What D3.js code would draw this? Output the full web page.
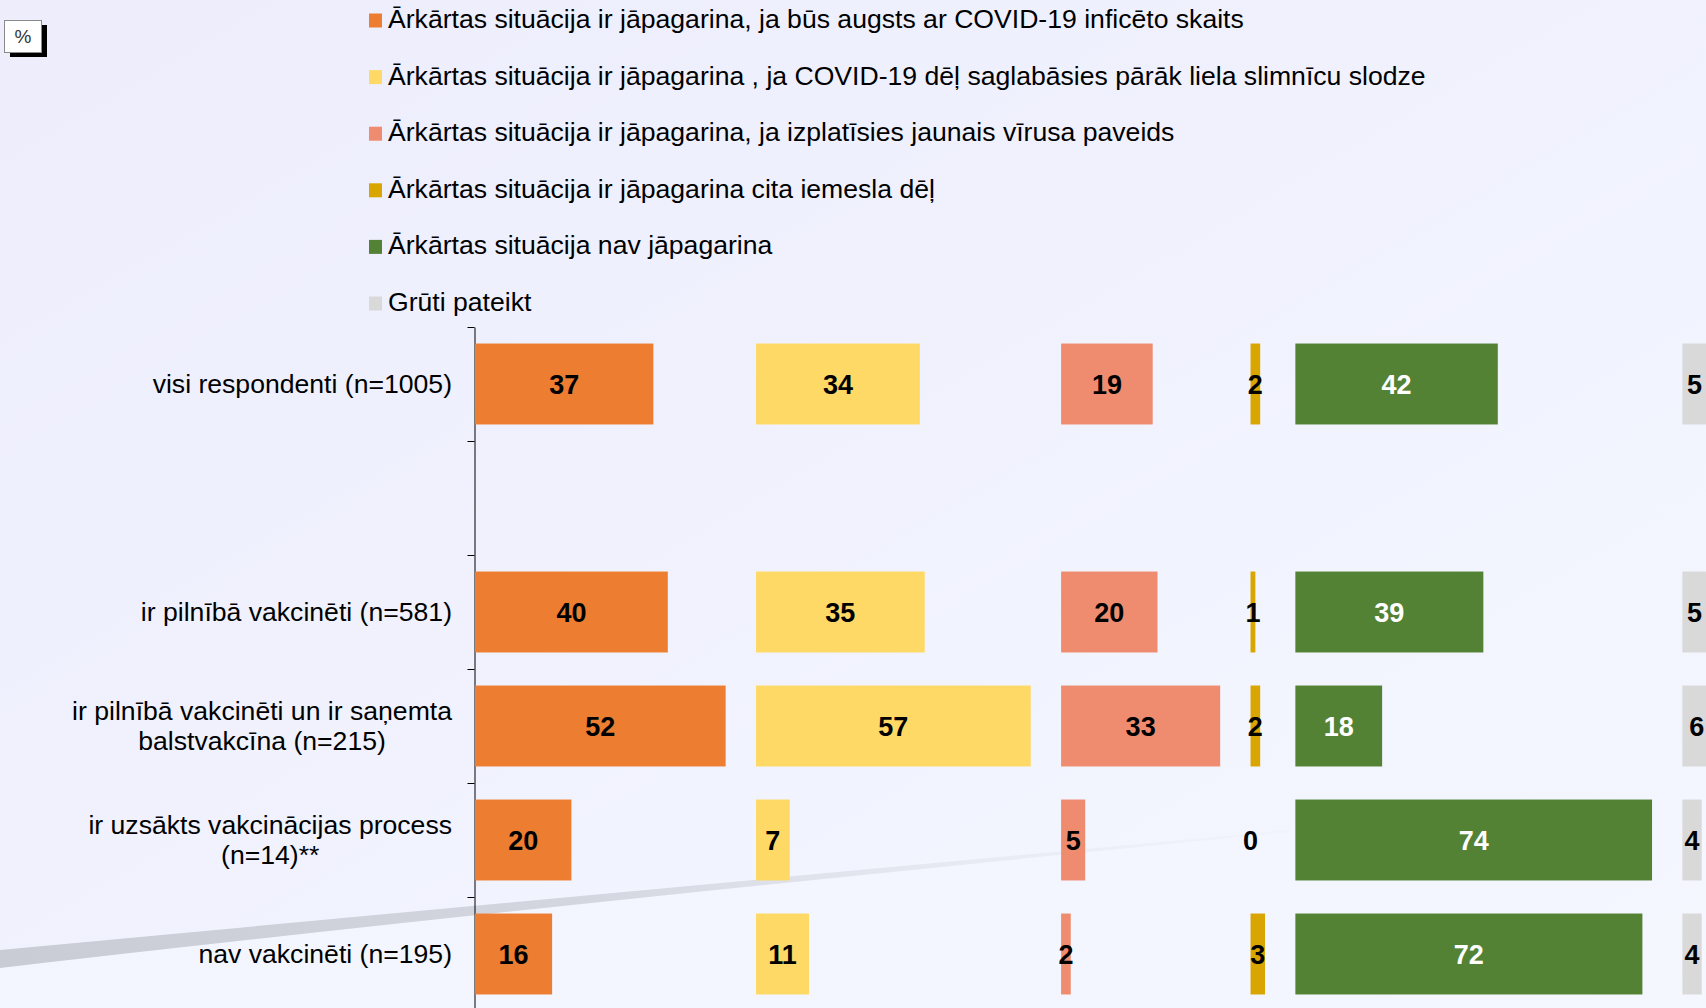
<!DOCTYPE html>
<html>
<head>
  <meta charset="utf-8">
  <title>Ārkārtas situācija</title>
  <script src="https://d3js.org/d3.v7.min.js"></script>
  <style>
    html, body { margin: 0; padding: 0; overflow: hidden; }
    svg { display: block; font-family: "Liberation Sans", Arial, sans-serif; }
    .cat { font-size: 26.6px; fill: #000; }
    .leg { font-size: 26.6px; fill: #000; }
    .val { font-size: 27px; font-weight: bold; }
  </style>
</head>
<body>
  <svg width="1706" height="1008"></svg>

  <script>
    // rows (the empty string is the blank slot between the first and second row)
    const categories = [
      "visi respondenti (n=1005)",
      "",
      "ir pilnībā vakcinēti (n=581)",
      "ir pilnībā vakcinēti un ir saņemta\nbalstvakcīna (n=215)",
      "ir uzsākts vakcinācijas process\n(n=14)**",
      "nav vakcinēti (n=195)"
    ];

    const seriesNames = [
      "Ārkārtas situācija ir jāpagarina, ja būs augsts ar COVID-19 inficēto skaits",
      "Ārkārtas situācija ir jāpagarina , ja COVID-19 dēļ saglabāsies pārāk liela slimnīcu slodze",
      "Ārkārtas situācija ir jāpagarina, ja izplatīsies jaunais vīrusa paveids",
      "Ārkārtas situācija ir jāpagarina cita iemesla dēļ",
      "Ārkārtas situācija nav jāpagarina",
      "Grūti pateikt"
    ];

    const highInfected = [37, null, 40, 52, 20, 16];
    const hospitalLoad = [34, null, 35, 57, 7, 11];
    const newVariant   = [19, null, 20, 33, 5, 2];
    const otherReason  = [2, null, 1, 2, 0, 3];
    const noExtension  = [42, null, 39, 18, 74, 72];
    const hardToSay    = [5, null, 5, 6, 4, 4];

    const seriesValues = [highInfected, hospitalLoad, newVariant, otherReason, noExtension, hardToSay];
    const colors = ["#ED7D31", "#FFD966", "#EF8C6F", "#D9A500", "#548235", "#D9D9D9"];
    const labelColors = ["#000", "#000", "#000", "#000", "#fff", "#000"];

    const svg = d3.select("svg");
    const W = 1706, H = 1008;
    const defs = svg.append("defs");

    // background
    const bg = defs.append("linearGradient").attr("id", "bg")
      .attr("x1", "0").attr("y1", "0").attr("x2", "1").attr("y2", "1");
    bg.append("stop").attr("offset", "0").attr("stop-color", "#EDEDFC");
    bg.append("stop").attr("offset", "1").attr("stop-color", "#F4F7FF");
    svg.append("rect").attr("width", W).attr("height", H).attr("fill", "url(#bg)");

    // swoosh decoration
    const sw = defs.append("linearGradient").attr("id", "sw")
      .attr("gradientUnits", "userSpaceOnUse")
      .attr("x1", 0).attr("y1", 0).attr("x2", 1290).attr("y2", 0);
    sw.append("stop").attr("offset", "0").attr("stop-color", "#C9CCD4");
    sw.append("stop").attr("offset", "0.45").attr("stop-color", "#D3D6DE");
    sw.append("stop").attr("offset", "1").attr("stop-color", "#E8EAF4").attr("stop-opacity", 0.2);
    svg.append("path")
      .attr("d", "M0,968 L0,1008 L1706,1008 L1706,820 L1290,832 Q500,910 0,968 Z")
      .attr("fill", "#F5F7FF").attr("opacity", 0.6);
    svg.append("path")
      .attr("d", "M0,950 L1290,830 L1290,832 Q500,910 0,968 Z")
      .attr("fill", "url(#sw)");

    // % box
    svg.append("rect").attr("x", 10).attr("y", 25).attr("width", 37).attr("height", 32).attr("fill", "#000");
    svg.append("rect").attr("x", 4.5).attr("y", 20.5).attr("width", 37).attr("height", 32)
      .attr("fill", "#fff").attr("stroke", "#8a8a8a");
    svg.append("text").attr("x", 23).attr("y", 43).attr("text-anchor", "middle")
      .style("font-size", "19px").attr("fill", "#333").text("%");

    // legend
    const legend = svg.append("g").selectAll("g").data(seriesNames).join("g")
      .attr("transform", (d, i) => `translate(369,${28 + i * 56.6})`);
    legend.append("rect").attr("x", 0).attr("y", -14.5).attr("width", 13).attr("height", 14)
      .attr("fill", (d, i) => colors[i]);
    legend.append("text").attr("class", "leg").attr("x", 19).attr("y", 0).text(d => d);

    // scales
    const x = d3.scaleLinear().domain([0, 100]).range([0, 482]);
    const y = d3.scaleBand().domain(d3.range(categories.length))
      .range([327, 1011]).paddingInner(0.29).paddingOuter(0.145);
    const yEdges = d3.scaleLinear().domain([0, categories.length]).range([327, 1011]);

    const axisX = 474.5;
    const gap = 6.3;
    const offsets = [];
    seriesValues.forEach((vals, k) => {
      if (k === 0) offsets.push(axisX + 0.5);
      else offsets.push(offsets[k - 1] + x(d3.max(seriesValues[k - 1])) + x(gap));
    });

    // axis with ticks on category boundaries
    svg.append("g").attr("transform", `translate(${axisX},0)`)
      .call(d3.axisLeft(yEdges).tickValues(d3.range(categories.length + 1))
        .tickFormat("").tickSizeInner(7).tickSizeOuter(0))
      .call(g => g.selectAll("path,line").attr("stroke", "#000"));

    // category labels
    const cats = svg.append("g").selectAll("text").data(categories).join("text")
      .attr("class", "cat")
      .attr("text-anchor", "middle");
    cats.each(function (d, i) {
      const lines = d.split("\n");
      const t = d3.select(this);
      const cy = y(i) + y.bandwidth() / 2;
      const lh = 30;
      lines.forEach((ln, j) => {
        t.append("tspan").attr("y", cy + (j - (lines.length - 1) / 2) * lh + 9).text(ln);
      });
      let maxW = 0;
      t.selectAll("tspan").each(function () { maxW = Math.max(maxW, this.getComputedTextLength()); });
      t.selectAll("tspan").attr("x", 452 - maxW / 2);
    });

    // bars and value labels
    seriesValues.forEach((vals, k) => {
      const g = svg.append("g").attr("transform", `translate(${offsets[k]},0)`);
      const rows = vals.map((v, i) => ({ v, i })).filter(d => d.v !== null);
      g.selectAll("rect").data(rows).join("rect")
        .attr("x", 0)
        .attr("y", d => y(d.i))
        .attr("width", d => x(d.v))
        .attr("height", y.bandwidth())
        .attr("fill", colors[k]);
      g.selectAll("text").data(rows).join("text")
        .attr("class", "val")
        .attr("x", d => x(d.v) / 2)
        .attr("y", d => y(d.i) + y.bandwidth() / 2 + 10)
        .attr("text-anchor", "middle")
        .attr("fill", labelColors[k])
        .text(d => d.v);
    });
  </script>
</body>
</html>
